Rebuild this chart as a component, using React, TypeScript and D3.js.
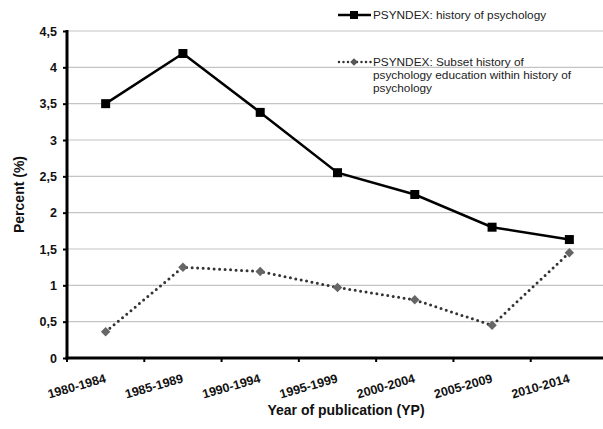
import React, { useEffect, useRef } from 'react'
import * as d3 from 'd3'

const periods = ['1980-1984', '1985-1989', '1990-1994', '1995-1999', '2000-2004', '2005-2009', '2010-2014']
const historyValues = [3.5, 4.19, 3.38, 2.55, 2.25, 1.8, 1.63]
const subsetValues = [0.36, 1.25, 1.19, 0.97, 0.8, 0.45, 1.45]
const yTicks = [0, 0.5, 1, 1.5, 2, 2.5, 3, 3.5, 4, 4.5]

const fmt = (v: number) => String(v).replace('.', ',')

const App = () => {
  const ref = useRef(null)

  useEffect(() => {
    const svg = d3.select(ref.current)
    svg.selectAll('*').remove()
    const font = 'Liberation Sans, Arial, sans-serif'

    const x = d3.scaleBand().domain(periods).range([67, 608])
    const y = d3.scaleLinear().domain([0, 4.5]).range([358, 31])
    const cx = (d: string) => x(d) + x.bandwidth() / 2

    // gridlines
    svg
      .append('g')
      .selectAll('line')
      .data(yTicks.slice(1))
      .enter()
      .append('line')
      .attr('x1', 67)
      .attr('x2', 603)
      .attr('y1', (d) => y(d))
      .attr('y2', (d) => y(d))
      .attr('stroke', '#c4c4c4')
      .attr('stroke-width', 1.2)

    // y axis
    const yAxis = svg.append('g').attr('transform', 'translate(67,0)')
    yAxis.call(d3.axisLeft(y).tickValues(yTicks).tickSize(4).tickFormat((d) => fmt(+d)))
    yAxis.select('.domain').remove()
    yAxis.selectAll('.tick line').attr('stroke', '#000').attr('stroke-width', 2)
    yAxis
      .selectAll('.tick text')
      .attr('x', -10)
      .attr('font-family', font)
      .attr('font-weight', 'bold')
      .attr('font-size', 12.5)
      .attr('fill', '#111')
    svg
      .append('line')
      .attr('x1', 67)
      .attr('x2', 67)
      .attr('y1', y(4.5) - 1)
      .attr('y2', y(0) + 1.5)
      .attr('stroke', '#000')
      .attr('stroke-width', 3)

    // x axis
    const xAxis = svg.append('g').attr('transform', `translate(0,${y(0)})`)
    xAxis.call(d3.axisBottom(x).tickSize(0).tickFormat(() => ''))
    xAxis.select('.domain').remove()
    xAxis
      .selectAll('.xtick')
      .data(periods)
      .enter()
      .append('line')
      .attr('x1', (d) => x(d))
      .attr('x2', (d) => x(d))
      .attr('y1', 0)
      .attr('y2', 4)
      .attr('stroke', '#000')
      .attr('stroke-width', 2)
    svg
      .append('line')
      .attr('x1', 65.5)
      .attr('x2', 603)
      .attr('y1', y(0))
      .attr('y2', y(0))
      .attr('stroke', '#000')
      .attr('stroke-width', 3)

    svg
      .append('g')
      .selectAll('text')
      .data(periods)
      .enter()
      .append('text')
      .attr('transform', (d) => `translate(${cx(d) + 1},${y(0) + 24}) rotate(-16)`)
      .attr('text-anchor', 'end')
      .attr('font-family', font)
      .attr('font-weight', 'bold')
      .attr('font-size', 12.5)
      .attr('fill', '#111')
      .text((d) => d)

    // axis titles
    svg
      .append('text')
      .attr('x', 346)
      .attr('y', 415)
      .attr('text-anchor', 'middle')
      .attr('font-family', font)
      .attr('font-weight', 'bold')
      .attr('font-size', 14)
      .attr('fill', '#111')
      .text('Year of publication (YP)')
    svg
      .append('text')
      .attr('transform', `translate(24,${(y(0) + y(4.5)) / 2}) rotate(-90)`)
      .attr('text-anchor', 'middle')
      .attr('font-family', font)
      .attr('font-weight', 'bold')
      .attr('font-size', 14)
      .attr('fill', '#111')
      .text('Percent (%)')

    // lines
    const line = d3
      .line<number>()
      .x((_, i) => cx(periods[i]))
      .y((d) => y(d))

    svg
      .append('path')
      .datum(subsetValues)
      .attr('d', line)
      .attr('fill', 'none')
      .attr('stroke', '#333')
      .attr('stroke-width', 3)
      .attr('stroke-linecap', 'round')
      .attr('stroke-dasharray', '0 5.5')

    svg
      .append('path')
      .datum(historyValues)
      .attr('d', line)
      .attr('fill', 'none')
      .attr('stroke', '#000')
      .attr('stroke-width', 2.5)

    const diamond = d3.symbol().type(d3.symbolSquare).size(45)
    svg
      .append('g')
      .selectAll('path')
      .data(subsetValues)
      .enter()
      .append('path')
      .attr('d', diamond)
      .attr('transform', (d, i) => `translate(${cx(periods[i])},${y(d)}) rotate(45)`)
      .attr('fill', '#666')

    svg
      .append('g')
      .selectAll('rect')
      .data(historyValues)
      .enter()
      .append('rect')
      .attr('x', (d, i) => cx(periods[i]) - 4.5)
      .attr('y', (d) => y(d) - 4.5)
      .attr('width', 9)
      .attr('height', 9)
      .attr('fill', '#000')

    // legend
    const lg = svg.append('g').attr('font-family', font).attr('font-size', 11.8).attr('fill', '#222')
    lg.append('line').attr('x1', 338).attr('x2', 371).attr('y1', 15).attr('y2', 15).attr('stroke', '#000').attr('stroke-width', 2.5)
    lg.append('rect').attr('x', 350).attr('y', 11).attr('width', 8).attr('height', 8).attr('fill', '#000')
    lg.append('text').attr('x', 373).attr('y', 19).text('PSYNDEX: history of psychology')

    lg.append('line')
      .attr('x1', 339)
      .attr('x2', 371)
      .attr('y1', 62)
      .attr('y2', 62)
      .attr('stroke', '#333')
      .attr('stroke-width', 2.5)
      .attr('stroke-linecap', 'round')
      .attr('stroke-dasharray', '0 4.5')
    lg.append('path').attr('d', d3.symbol().type(d3.symbolSquare).size(30)).attr('transform', 'translate(354,62) rotate(45)').attr('fill', '#555')
    lg.append('text').attr('x', 373).attr('y', 66).text('PSYNDEX: Subset history of')
    lg.append('text').attr('x', 373).attr('y', 79).text('psychology education within history of')
    lg.append('text').attr('x', 373).attr('y', 92).text('psychology')
  }, [])

  return (
    <svg ref={ref} width={603} height={429} style={{ position: 'absolute', left: 0, top: 0, background: '#fff' }}></svg>
  )
}

export default App
